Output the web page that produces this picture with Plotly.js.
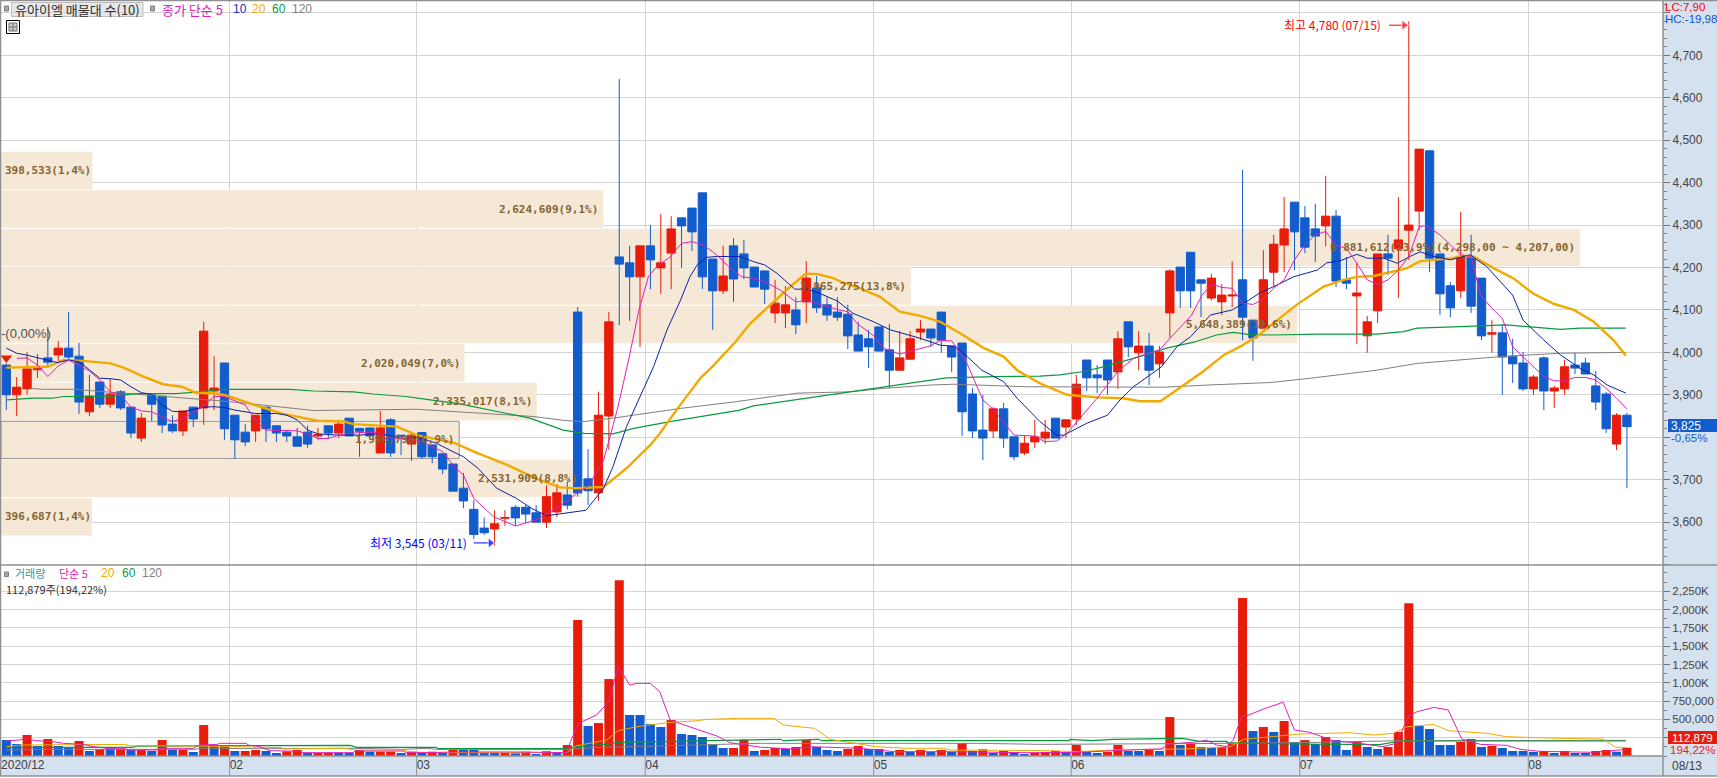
<!DOCTYPE html>
<html><head><meta charset="utf-8">
<script src="https://cdn.plot.ly/plotly-3.0.1.min.js"></script>
<style>html,body{margin:0;padding:0;background:#fff;overflow:hidden}#c{width:1717px;height:778px}</style>
</head><body><div id="c"></div>
<script>
// ---- candles (won) ----
const openP=[3970,3900,3914,3959,3987,3994,4010,3991,3860,3930,3878,3907,3871,3798,3900,3897,3831,3815,3871,3869,3909,3975,3852,3812,3815,3871,3827,3812,3801,3812,3803,3827,3810,3845,3821,3822,3763,3841,3805,3784,3811,3782,3761,3737,3680,3630,3586,3584,3609,3635,3635,3622,3600,3624,3664,4095,3702,3669,3850,4225,4211,4178,4251,4199,4234,4317,4340,4376,4220,4145,4251,4232,4201,4192,4093,4093,4100,4119,4152,4112,4095,4090,4041,4032,4060,4006,3958,3984,4048,4055,4095,4015,4022,3902,3817,3815,3867,3801,3763,3789,3798,3845,3824,3843,3982,3947,3982,3954,4072,3999,4015,3973,4093,4201,4236,4171,4128,4119,4133,4171,4076,4057,4189,4253,4354,4317,4291,4298,4321,4171,4133,4039,4098,4232,4244,4288,4333,4475,4232,4157,4145,4225,4175,4043,4046,3991,3975,3914,3987,3909,3914,3970,3975,3921,3902,3784,3852];
const highP=[3974,3942,4001,3996,4060,4027,4095,4022,3947,3930,3938,3911,3871,3857,3900,3897,3852,3862,3871,4072,3991,3975,3852,3831,3852,3871,3827,3817,3822,3827,3822,3827,3841,3845,3821,3822,3862,3845,3805,3813,3813,3782,3761,3737,3716,3652,3611,3628,3628,3640,3640,3640,3687,3690,3695,4107,3772,3907,4095,4644,4251,4251,4300,4326,4321,4317,4340,4376,4220,4251,4269,4265,4201,4192,4171,4156,4130,4215,4180,4130,4130,4112,4072,4053,4060,4067,4050,4050,4076,4055,4095,4015,4022,3916,3900,3871,3881,3801,3805,3841,3841,3845,3841,3947,3982,3970,3982,4050,4072,4050,4046,4015,4196,4201,4236,4171,4185,4161,4215,4430,4076,4241,4277,4366,4354,4345,4350,4416,4336,4225,4211,4086,4232,4277,4366,4780,4479,4475,4232,4166,4331,4277,4175,4076,4067,4032,4001,3947,3991,3921,3982,3999,3987,3956,3907,3857,3857];
const lowP=[3864,3850,3900,3940,3966,3980,3980,3855,3850,3869,3869,3864,3798,3789,3838,3810,3810,3803,3824,3829,3864,3794,3749,3779,3789,3789,3789,3789,3779,3775,3794,3798,3798,3803,3754,3803,3763,3754,3758,3744,3749,3739,3713,3673,3633,3560,3570,3545,3591,3591,3598,3600,3586,3612,3630,3660,3640,3650,3770,4064,4074,4013,4149,4138,4149,4199,4239,4149,4053,4138,4119,4173,4154,4114,4069,4057,4043,4069,4093,4074,4074,4008,4003,3963,4003,3916,3958,3984,4029,4013,3999,3954,3803,3798,3746,3798,3775,3746,3758,3775,3784,3798,3798,3829,3909,3904,3900,3914,3989,3958,3923,3940,4034,4105,4105,4083,4123,4088,4107,4029,3980,4057,4154,4189,4194,4234,4213,4250,4154,4149,4020,3999,4069,4182,4128,4218,4288,4189,4088,4083,4128,4093,4029,3999,3900,3928,3909,3900,3864,3869,3900,3949,3949,3864,3810,3770,3680];
const closeP=[3900,3918,3961,3966,3977,4010,3989,3883,3897,3878,3902,3869,3810,3845,3878,3829,3815,3862,3843,4050,3916,3820,3794,3789,3852,3820,3810,3803,3779,3784,3806,3810,3831,3803,3814,3803,3822,3763,3802,3805,3754,3754,3725,3673,3650,3571,3575,3596,3611,3610,3619,3600,3660,3669,3640,3669,3674,3852,4072,4208,4178,4251,4218,4211,4291,4298,4284,4178,4145,4180,4173,4199,4154,4149,4116,4112,4065,4175,4105,4088,4083,4039,4003,4013,4003,3958,3987,4032,4055,4034,4029,3989,3860,3815,3798,3867,3798,3754,3786,3801,3812,3798,3841,3925,3940,3940,3935,4032,4013,4015,3958,4001,4192,4145,4145,4163,4175,4135,4135,4083,4034,4171,4255,4291,4284,4248,4274,4321,4168,4163,4140,4072,4232,4222,4265,4300,4479,4222,4138,4105,4225,4109,4039,4046,3989,3973,3914,3942,3909,3916,3966,3963,3949,3883,3820,3852,3825];

// ---- volume in thousands of shares ----
const volK=[218,164,287,137,232,137,123,205,68,96,114,96,82,82,68,218,82,82,55,423,150,150,68,68,82,68,41,64,82,41,41,41,41,41,82,59,59,59,41,59,41,59,41,82,82,82,41,41,41,36,59,27,64,46,150,1858,410,450,1051,2400,560,560,437,396,491,300,287,259,150,109,109,223,68,82,109,96,123,218,123,82,68,96,137,96,96,55,82,55,82,55,82,55,177,68,91,41,68,55,27,41,55,68,55,150,55,41,55,150,68,68,91,68,532,150,164,123,109,123,164,2157,341,396,328,478,191,218,164,259,218,82,205,123,96,123,328,2088,410,369,150,150,191,232,123,137,109,68,68,55,68,41,68,41,41,68,82,59,112.879];
const volDir=("BBRBRBBRBRBRBRBRBRBRBRBRR"+"BBRRBRRBBRBRRBRBRBRBBBBR"+"BRBRBRRBRRRBBBBRBBBBBRRB"+"RRBRRBBBRR"+"BBBRBRBRBR"+"BRBRBBRRRB"+"RBBRRBBRBR"+"BRB"+"BRRRBRBRBR"+"BRBBRBBRRR"+"BBBBRRBRBB"+"BBRBRBBRRBR").split("");

// ---- price moving averages: [candle index], [price] read at knots ----
const ma5X=[1,2,3,4,5,6,7,8,9,10,11,12,13,14,15,16,17,18,19,20,21,22,23,23.7,24.4,25,26,27,28,29,30,31,32,33,34,35,36,37,38,39,40,41.4,42,43,44,45,46.2,46.9,49,50,51,52.4,54,55,56,57.5,58,58.8,59.9,60.9,61.8,62.6,63.9,65,66,67.1,68,68.9,69.5,70.8,71.9,73.2,74.5,76,77.1,78.7,80,81,81.9,83.5,84.4,86,87.2,88.9,89.9,91,92.4,94,95,97,99,99.9,101.1,102.1,105,107,108.5,111,114.1,115.1,116,117,118,119,120,120.9,122,123,124,125,126,127,128,129,130,131,132,133,134,135,136,136.7,138,140,141,141.9,143,144,145,146,147,148,149,150,151,152,153,154,155,156];
const ma5Y=[3986,3987,3970,3943,3968,3982,3970,3956,3935,3907,3900,3871,3862,3860,3848,3837,3845,3858,3874,3896,3896,3886,3876,3850,3830,3817,3817,3816,3815,3808,3797,3797,3805,3809,3811,3812,3809,3799,3797,3796,3790,3772,3766,3735,3711,3656,3629,3613,3591,3598,3605,3625,3650,3670,3684,3746,3793,3864,3982,4100,4178,4202,4225,4257,4261,4253,4237,4218,4202,4178,4175,4164,4147,4119,4122,4110,4101,4096,4068,4039,4010,3996,4004,4015,4028,4027,3978,3888,3866,3805,3803,3790,3791,3809,3892,3955,3986,4006,4088,4135,4161,4153,4151,4116,4113,4124,4151,4171,4218,4253,4277,4285,4253,4245,4210,4171,4160,4171,4194,4226,4296,4299,4277,4230,4226,4135,4104,4080,4013,3990,3966,3943,3933,3933,3941,3941,3935,3915,3892,3867];
const ma10X=[0,1,1.9,3,4,4.9,6,7,8,9,10,11,12,13,14,15,16,17,19,20,21,22,24,26,27,28,29,30,32,34,36,38,39.6,41.4,43,44,45.4,47.2,49.1,50.6,52,53.9,55.8,57.5,58.4,59.7,61,62.3,63.6,64.9,65.8,66.5,67.4,68.4,70.6,71.9,73,74.2,75.9,77.1,78.3,80,81.5,83.5,85.1,88,89.9,91.3,92.5,93.9,96,97.3,99.5,101.1,101.8,104,106,107.2,108.5,110.1,111.2,112.7,114,115.9,118,119.6,120.7,122,123.9,126.2,127.1,128.4,130,131,132.6,133.9,135.1,136.1,137.4,139,140.9,142.5,143.8,145,146,148,149.6,151.5,152.8,154.1,155.9];
const ma10Y=[4010,3998,3994,3987,3980,3976,3982,3978,3959,3939,3938,3935,3919,3905,3901,3876,3861,3860,3871,3872,3870,3864,3856,3856,3852,3841,3817,3808,3805,3805,3809,3797,3800,3786,3766,3754,3727,3680,3656,3632,3615,3621,3628,3680,3731,3825,3896,3966,4053,4123,4178,4206,4224,4226,4226,4214,4206,4186,4149,4149,4139,4121,4092,4072,4053,4033,4017,4014,3990,3958,3931,3892,3837,3805,3805,3833,3852,3888,3919,3947,3966,4014,4037,4088,4100,4123,4141,4155,4178,4194,4211,4216,4231,4222,4222,4210,4226,4237,4226,4218,4230,4202,4167,4135,4076,4029,3994,3962,3947,3923,3904];
const ma20X=[0,2.6,4,5.5,7.4,10,11.3,13.2,15.1,16.9,18.2,20.3,21.5,24.4,26.7,29.9,32.5,33.4,37.6,39.5,41.8,43.2,45,46.6,48.2,50.1,51.4,53.3,54.9,57.5,59.7,62,62.9,64.5,66.8,68.1,70.2,71.6,73.2,75.1,76.9,78,79.6,80.3,82.2,84.1,86,88,89.9,91.8,94.1,96,97.3,99.5,102.1,105,107.5,109.1,111.1,113.3,115.2,117.2,118.8,120.5,122.3,124.2,126.8,128.7,130,131.6,134.8,136.1,139.3,140,141.2,143.2,145.1,147,149,150.9,152.8,154.7,155.9];
const ma20Y=[3964,3966,3966,3982,3980,3974,3964,3943,3925,3919,3905,3903,3896,3872,3855,3839,3837,3831,3825,3805,3794,3786,3766,3750,3735,3713,3699,3682,3680,3683,3727,3782,3809,3864,3939,3970,4025,4068,4104,4147,4185,4185,4175,4167,4151,4131,4096,4086,4072,4045,4010,3990,3958,3927,3900,3894,3892,3885,3885,3923,3955,3994,4014,4040,4076,4112,4155,4171,4178,4180,4198,4215,4222,4228,4226,4198,4174,4138,4114,4100,4072,4029,3992];
const ma60X=[0,2.6,4.4,5.5,10.3,12.6,16.4,18.6,20.6,27.3,29.6,33.4,35.3,38.5,40.8,43.4,48.2,50.4,53.6,55.6,58.4,60.4,63.9,70.6,71.9,81.2,84.4,87.6,90.5,95.3,99.5,101.4,103.7,105.6,108.5,111.7,114.3,116.5,118.1,119.7,121.7,126.5,131.9,134.5,135.8,139.3,144.4,146.7,149.6,151.5,155.9];
const ma60Y=[3888,3892,3892,3896,3897,3903,3903,3907,3913,3913,3909,3907,3902,3896,3888,3880,3856,3845,3817,3809,3808,3821,3837,3864,3874,3907,3918,3931,3940,3943,3944,3947,3955,3966,3986,4010,4024,4041,4047,4042,4041,4043,4043,4049,4057,4060,4065,4060,4054,4057,4057];
const ma120X=[2.3,3.6,6.5,9.7,12.6,17.4,21.5,25.4,29.6,39.5,41.4,50.7,54,55.6,58.4,61.6,64.9,70.3,76.1,81.2,84.4,88.9,91.2,98.2,108.2,111.4,115.6,121.7,125.5,131.9,135.8,143.8,149.6,155.9];
const ma120Y=[3915,3913,3913,3907,3902,3892,3884,3874,3863,3866,3863,3849,3839,3837,3845,3856,3868,3884,3904,3907,3915,3923,3925,3919,3917,3918,3923,3929,3939,3958,3974,3990,3998,4000];

// ---- volume moving averages (thousands) ----
const vma5X=[0,1.2,2,2.8,4.5,5.5,7.4,8.4,9.7,11.3,11.8,14.5,14.8,18,18.6,20.3,20.6,23.1,23.3,24.4,25.4,28.3,28.4,33.4,33.6,34.4,38.2,38.5,40.5,43.4,48.5,54,54.3,55.1,56.8,58,58.9,60,60.7,62,62.9,63.9,66.5,68.4,69.7,72.6,75.6,77.4,80.4,82.2,85.5,91,97.7,102.5,109.5,111.1,112,114.9,115.5,116.5,117.5,118.1,118.9,119.6,121,122.9,124,125.5,127.7,130.3,132.5,133.8,135,135.8,137.4,138.8,140.1,141.9,144.4,145.7,147.6,152.8,155.9];
const vma5Y=[205,218,237,209,196,173,159,127,105,105,82,82,105,105,150,159,173,173,150,127,73,64,46,46,73,68,68,46,46,55,55,46,196,446,560,741,1229,969,992,992,878,491,364,273,180,120,96,127,114,105,59,59,46,46,91,96,164,196,218,150,127,218,537,560,641,733,355,323,209,173,127,173,546,605,664,628,232,159,146,91,64,50,91];
const vma20X=[0,1.3,11.6,11.6,18.6,24.4,26.5,26.7,31.5,32.4,33.6,38.2,38.7,40.5,54,54.9,57.8,58.9,60.7,63.6,66.5,67.4,70.5,73.9,74.8,77.8,79.3,81.5,83.7,86.6,90.3,90.7,96.6,100.6,102.8,106.5,113.5,114.9,117.8,119.1,121.5,124.5,129.3,131.6,133.5,134.8,137.4,138.8,142.5,144.4,149.6,153.7,154.9,155.9];
const vma20Y=[127,150,159,141,136,114,114,96,96,105,82,82,59,46,46,141,218,346,400,455,482,500,514,514,423,378,228,182,127,105,105,82,82,73,59,82,96,105,127,228,264,300,318,287,309,400,432,346,309,264,241,232,118,118];
const vma60X=[0,12.2,12.6,24.4,33.1,33.7,41.4,41.5,54,54.9,58.1,58.8,72.6,74.5,74.8,78.2,78.5,102.3,102.4,104.5,106.5,113.2,114.9,117.5,117.5,123.6,132.2,134.2,137.4,155.9];
const vma60Y=[118,118,136,146,146,118,118,100,100,127,164,187,228,228,209,228,209,209,228,209,228,241,200,200,182,164,155,205,205,205];
const vma120X=[0,5.8,18.3,18.6,24.4,33.4,38.2,40.5,41.4,49.5,54,57.2,72.6,93.6,99.5,114.9,124.5,134.2,155.9];
const vma120Y=[82,91,91,105,100,105,91,105,91,85,91,118,173,173,159,170,182,209,214];

// ---- volume-by-price table ----
const bandPrice=[4428.5,4337.8,4247,4156.4,4065.7,3975,3884.3,3793.6,3703,3612.3];
const bandVolume=[398533,2624609,6881612,3965275,5648389,2020049,2335017,1996798,2531909,396687];
const bandLabel=["398,533(1,4%)","2,624,609(9,1%)","6,881,612(23,9%)(4,298,00 ~ 4,207,00)","3,965,275(13,8%)","5,648,389(19,6%)","2,020,049(7,0%)","2,335,017(8,1%)","1,996,798(6,9%)","2,531,909(8,8%)","396,687(1,4%)"];
const selectedBand=7;

// ---- axes ----
const monthTicks=[-0.5,21.5,39.5,61.5,83.5,102.5,124.5,146.5];
const monthLabels=["2020/12","02","03","04","05","06","07","08"];
const priceTicks=[3500,3600,3700,3800,3900,4000,4100,4200,4300,4400,4500,4600,4700,4800];
const priceLabels=["","3,600","3,700","","3,900","4,000","4,100","4,200","4,300","4,400","4,500","4,600","4,700",""];
const volTicks=[250,500,750,1000,1250,1500,1750,2000,2250];
const volLabels=["","500,000","750,000","1,000K","1,250K","1,500K","1,750K","2,000K","2,250K"];

// ---- colours and fonts ----
const RED="#e81c0a",BLUE="#125ccc",MAG="#e020b8",NAVY="#0a22a8",ORG="#f0aa00",GRN="#0a9a3e",GRY="#808080";
const GRID="#d4d4d4",EDGE="#909090",PANEL="#d6e1ef",BEIGE="#f5e8d7",BROWN="#86642f";
const KR='"Noto Sans CJK KR",sans-serif',NUM='"Liberation Sans",sans-serif',MONO='"DejaVu Sans Mono",monospace';

const L=1,R=1663,T=1,B=756;
const px=x=>(x-L)/(R-L), py=y=>(B-y)/(B-T);
const volDomainTop=(B-565)/(B-T);
const idx=volK.map((_,i)=>i);

function line(x,y,color,width,xa,ya){return {type:"scatter",mode:"lines",x,y,xaxis:xa,yaxis:ya,line:{color,width,shape:"linear"},hoverinfo:"skip",showlegend:false};}

const data=[
 {type:"bar",orientation:"h",x:bandVolume,y:bandPrice,width:88,xaxis:"x",yaxis:"y",
  marker:{color:BEIGE,line:{color:bandVolume.map((_,i)=>i===selectedBand?EDGE:BEIGE),width:bandVolume.map((_,i)=>i===selectedBand?1:0)}},hoverinfo:"skip",showlegend:false},
 {type:"candlestick",x:idx,open:openP,high:highP,low:lowP,close:closeP,xaxis:"x2",yaxis:"y",whiskerwidth:0,
  increasing:{line:{color:RED,width:1},fillcolor:RED},decreasing:{line:{color:BLUE,width:1},fillcolor:BLUE},hoverinfo:"skip",showlegend:false},
 line(ma120X,ma120Y,GRY,1,"x2","y"),
 line(ma60X,ma60Y,GRN,1.2,"x2","y"),
 line(ma20X,ma20Y,ORG,2.4,"x2","y"),
 line(ma10X,ma10Y,NAVY,1,"x2","y"),
 line(ma5X,ma5Y,MAG,1,"x2","y"),
 {type:"scatter",mode:"lines+markers",x:[133.1,134.55],y:[4771,4771],xaxis:"x2",yaxis:"y",line:{color:"#ff0000",width:1},marker:{symbol:"triangle-right",size:[0,9],color:"#ff0000"},hoverinfo:"skip",showlegend:false},
 {type:"scatter",mode:"lines+markers",x:[45,46.6],y:[3551,3551],xaxis:"x2",yaxis:"y",line:{color:"#0000ff",width:1},marker:{symbol:"triangle-right",size:[0,9],color:"#0000ff"},hoverinfo:"skip",showlegend:false},
 {type:"scatter",mode:"markers",x:[0],y:[3987],xaxis:"x2",yaxis:"y",marker:{symbol:"triangle-down",size:10,color:"#e81c0a"},hoverinfo:"skip",showlegend:false},
 {type:"bar",x:idx,y:volK,xaxis:"x3",yaxis:"y2",marker:{color:volDir.map(c=>c==="R"?RED:BLUE),line:{width:0}},hoverinfo:"skip",showlegend:false},
 line(vma120X,vma120Y,GRY,1,"x3","y2"),
 line(vma60X,vma60Y,GRN,1.2,"x3","y2"),
 line(vma20X,vma20Y,ORG,1,"x3","y2"),
 line(vma5X,vma5Y,MAG,1,"x3","y2"),
];

function note(text,x,y,color,size,family,extra){
 return Object.assign({text,xref:"paper",yref:"paper",x:px(x),y:py(y),xanchor:"left",yanchor:"middle",showarrow:false,borderpad:0,borderwidth:0,
  font:{color,size,family}},extra||{});
}
const annotations=[
 note("유아이엘 매물대 수(10)",15,9.5,"#303030",13,KR),
 note("종가 단순 5",162,9.5,MAG,13,KR),
 note("10",233,9.5,"#1030c0",12,NUM),
 note("20",252,9.5,ORG,12,NUM),
 note("60",272,9.5,GRN,12,NUM),
 note("120",292,9.5,GRY,12,NUM),
 note("-(0,00%)",1,333,"#505050",13,NUM),
 note("최고 4,780 (07/15)",1284,24.5,"#ff0000",12,KR),
 note("최저 3,545 (03/11)",370,542.5,"#0000ff",12,KR),
 note("LC:7,90",1665,7,"#ff0000",11.5,NUM),
 note("HC:-19,98",1665,19,"#1050e0",11.5,NUM),
 note("3,825",1671,425.5,"#ffffff",12,NUM),
 note("-0,65%",1671,437.5,BLUE,11.5,NUM),
 note("112,879",1672,737.5,"#ffffff",11.5,NUM),
 note("194,22%",1670,749.5,RED,11.5,NUM),
 note("08/13",1672,766,"#404040",12,NUM),
 note("거래량",15,573,"#2f9a9a",11,KR),
 note("단순 5",59,573,MAG,11,KR),
 note("20",101,573,ORG,12,NUM),
 note("60",122,573,GRN,12,NUM),
 note("120",142,573,GRY,12,NUM),
 note("112,879주(194,22%)",6,588.5,"#303030",11,KR),
];
bandLabel.forEach((t,i)=>annotations.push({text:t,xref:"x",yref:"y",x:bandVolume[i],y:bandPrice[i],xanchor:"right",yanchor:"middle",
 xshift:(i===0||i===9)?0:-4,showarrow:false,borderpad:0,font:{color:BROWN,size:11,family:MONO,weight:"bold"}}));

function rect(x0,y0,x1,y1,fill,lineColor,layer){return {type:"rect",xref:"paper",yref:"paper",x0:px(x0),y0:py(y0),x1:px(x1),y1:py(y1),fillcolor:fill,line:{color:lineColor||fill,width:lineColor?1:0},layer:layer||"above"};}
function hv(x0,y0,x1,y1,color,w){return {type:"line",xref:"paper",yref:"paper",x0:px(x0),y0:py(y0),x1:px(x1),y1:py(y1),line:{color,width:w||1},layer:"above"};}
const shapes=[
 rect(1663,0,1717,776,PANEL,null,"below"),
 rect(0,756,1663,776,PANEL,null,"below"),
 rect(11.5,2.5,143,16.5,"#e8e8e8","#bdbdbd","below"),
 rect(4.5,6,8.5,11,"#a8a8a8","#808080"),
 rect(150.5,6,154.5,11,"#a8a8a8","#808080"),
 rect(4.5,572,8.5,576.5,"#a8a8a8","#808080"),
 rect(6.5,20.5,19.5,33.5,"#ffffff","#000000"),
 rect(9,23,17,31,"#cccccc","#707070"),
 hv(9,27,17,27,"#707070"),hv(13,23,13,31,"#707070"),
 rect(1668,419,1717,432,BLUE,null),
 rect(1668,731,1717,744,RED,null),
 hv(0,0.5,1717,0.5,EDGE,1.5),
 hv(0.5,0,0.5,776,EDGE,1.5),
 hv(1663,0,1663,776,EDGE,1.5),
 hv(0,565,1717,565,EDGE,1.5),
 hv(0,756,1663,756,EDGE,1.5),
 hv(0,776,1717,776,EDGE,1.5),
];
monthTicks.slice(1).forEach(m=>shapes.push({type:"line",xref:"x3",yref:"paper",x0:m,x1:m,y0:py(756),y1:py(776),line:{color:EDGE,width:1},layer:"above"}));

const xRange=[-0.51,159.47];
const layout={
 width:1717,height:778,autosize:false,margin:{l:L,r:1717-R,t:T,b:778-B,pad:0},
 paper_bgcolor:"#ffffff",plot_bgcolor:"rgba(0,0,0,0)",showlegend:false,
 font:{family:NUM,size:12,color:"#444444"},
 barmode:"overlay",bargap:0.13,boxgap:0.2,boxgroupgap:0,
 xaxis:{domain:[0,1],range:[0,7243000],visible:false,anchor:"y",fixedrange:true,rangeslider:{visible:false}},
 xaxis2:{domain:[0,1],overlaying:"x",anchor:"y",range:xRange,tickmode:"array",tickvals:monthTicks,ticktext:monthLabels,showticklabels:false,ticks:"",showgrid:true,gridcolor:GRID,gridwidth:1,zeroline:false,showline:false,fixedrange:true,rangeslider:{visible:false}},
 xaxis3:{domain:[0,1],anchor:"y2",range:xRange,tickmode:"array",tickvals:monthTicks,ticktext:monthLabels,ticks:"",ticklabelposition:"outside right",tickfont:{family:NUM,size:12,color:"#404040"},showgrid:true,gridcolor:GRID,gridwidth:1,zeroline:false,showline:false,fixedrange:true,rangeslider:{visible:false}},
 yaxis:{domain:[volDomainTop,1],range:[3499,4828],side:"right",anchor:"x",tickmode:"array",tickvals:priceTicks,ticktext:priceLabels,ticks:"outside",ticklen:6,tickcolor:"#707070",tickwidth:1,
  minor:{dtick:20,ticks:"outside",ticklen:3,tickcolor:"#808080",showgrid:false},tickfont:{family:NUM,size:12,color:"#444444"},showgrid:true,gridcolor:GRID,gridwidth:1,zeroline:false,showline:false,fixedrange:true},
 yaxis2:{domain:[0,volDomainTop],range:[0,2609],side:"right",anchor:"x3",tickmode:"array",tickvals:volTicks,ticktext:volLabels,ticks:"outside",ticklen:6,tickcolor:"#707070",tickwidth:1,
  minor:{dtick:125,ticks:"outside",ticklen:3,tickcolor:"#808080",showgrid:false},tickfont:{family:NUM,size:11.5,color:"#444444"},showgrid:true,gridcolor:GRID,gridwidth:1,zeroline:false,showline:false,fixedrange:true},
 annotations,shapes
};
Plotly.newPlot("c",data,layout,{displayModeBar:false,staticPlot:true,responsive:false});
</script></body></html>
